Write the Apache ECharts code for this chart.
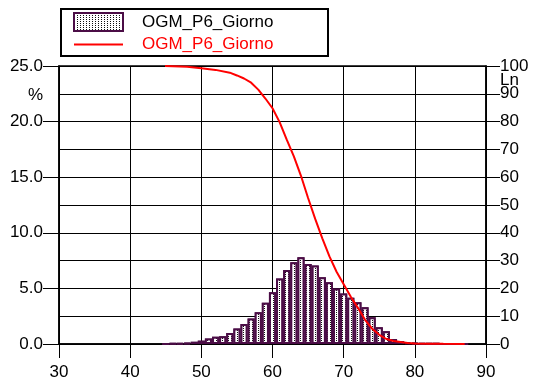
<!DOCTYPE html>
<html>
<head>
<meta charset="utf-8">
<script src="https://cdn.jsdelivr.net/npm/echarts@6/dist/echarts.min.js"></script>
<style>
  html, body { margin: 0; padding: 0; background: #fff; }
  #chart { width: 536px; height: 381px; }
</style>
</head>
<body>
<div id="chart"></div>
<script>
// Level classes (dB) and the share of time spent in each class (%)
const levelClasses = [45, 46, 47, 48, 49, 50, 51, 52, 53, 54, 55, 56, 57, 58, 59, 60, 61, 62, 63, 64,
  65, 66, 67, 68, 69, 70, 71, 72, 73, 74, 75, 76, 77, 78, 79, 80, 81, 82, 83, 84, 85, 86, 87];
const classShare = [0.02, 0.03, 0.05, 0.1, 0.2, 0.3, 0.5, 0.65, 0.7, 1.0, 1.4, 1.8, 2.3, 2.85, 3.7, 4.65, 5.9, 6.65, 7.35, 7.8,
  7.2, 7.05, 6.0, 5.55, 5.0, 4.55, 4.15, 3.75, 3.3, 2.4, 1.5, 1.15, 0.45, 0.25, 0.15, 0.1, 0.05, 0.04, 0.03, 0.02, 0.02, 0.01, 0.01];

// Percentile levels Ln: level (dB) and percentage of time exceeded
const lnLevel = [44.9, 46, 48, 50, 52, 54, 55, 56, 57, 58, 59, 60, 61, 62, 63, 64, 65, 66, 67, 68,
  69, 70, 71, 72, 73, 74, 75, 76, 77, 78, 79, 80, 82, 84, 87];
const lnPercent = [100, 99.9, 99.7, 99.2, 98.6, 97.6, 96.6, 95.5, 94.0, 91.5, 88.3, 84.8, 79.8, 73.5, 67.5, 60.5, 52.5, 45, 38, 31.5,
  26, 21.5, 17, 13, 8.7, 5.5, 3.3, 1.8, 1.1, 0.7, 0.4, 0.2, 0.1, 0.05, 0];

const seriesName = 'OGM_P6_Giorno';
const FONT = 'Liberation Sans, Arial, sans-serif';

const chart = echarts.init(document.getElementById('chart'), null, { renderer: 'canvas' });

chart.setOption({
  animation: false,
  backgroundColor: '#fff',
  textStyle: { fontFamily: FONT },
  grid: {
    left: 59, right: 50, top: 66, bottom: 37,
    show: true, borderColor: '#000', borderWidth: 1.5, backgroundColor: 'transparent'
  },
  legend: {
    orient: 'vertical',
    left: 73, top: 12, padding: 0,
    itemWidth: 49, itemHeight: 18, itemGap: 4,
    selectedMode: false,
    formatter: n => n.trim(),
    textStyle: { fontFamily: FONT, fontSize: 17, color: '#000', padding: [0, 0, 0, 14] },
    data: [
      { name: seriesName, icon: 'rect', textStyle: { color: '#000' } },
      { name: seriesName + ' ', icon: 'path://M0,0 L55,0 L55,2 L0,2 Z', textStyle: { color: '#ff0000' } }
    ]
  },
  graphic: [
    { type: 'rect', shape: { x: 61, y: 9, width: 267, height: 47 },
      style: { fill: 'none', stroke: '#000', lineWidth: 2 }, z: 10 },
    { type: 'text', x: 43, y: 95,
      style: { text: '%', fill: '#000', font: '17px ' + FONT, textAlign: 'right', textVerticalAlign: 'middle' } },
    { type: 'text', x: 500, y: 80,
      style: { text: 'Ln', fill: '#000', font: '17px ' + FONT, textAlign: 'left', textVerticalAlign: 'middle' } }
  ],
  xAxis: {
    type: 'value', min: 30, max: 90, interval: 10,
    axisLine: { lineStyle: { color: '#000', width: 1.5 } },
    axisTick: { length: 14, lineStyle: { color: '#000' } },
    axisLabel: { color: '#000', fontSize: 17, margin: 20, fontFamily: FONT },
    splitLine: { show: true, lineStyle: { color: '#000', width: 1 } }
  },
  yAxis: [
    {
      type: 'value', min: 0, max: 25, interval: 5,
      axisLine: { show: true, lineStyle: { color: '#000', width: 1.5 } },
      axisTick: { show: true, length: 16, lineStyle: { color: '#000' } },
      axisLabel: { color: '#000', fontSize: 17, margin: 16, fontFamily: FONT, formatter: v => v.toFixed(1) },
      splitLine: { show: false }
    },
    {
      type: 'value', min: 0, max: 100, interval: 10, position: 'right',
      axisLine: { show: true, lineStyle: { color: '#000', width: 1.5 } },
      axisTick: { show: true, length: 14, lineStyle: { color: '#000' } },
      axisLabel: { color: '#000', fontSize: 17, margin: 14, fontFamily: FONT },
      splitLine: { show: true, lineStyle: { color: '#000', width: 1 } }
    }
  ],
  series: [
    {
      name: seriesName,
      type: 'bar',
      yAxisIndex: 0,
      barWidth: '100%',
      data: levelClasses.map((x, i) => [x, classShare[i]]),
      itemStyle: {
        color: '#ffffff',
        borderColor: '#4b0d46',
        borderWidth: 2,
        decal: {
          symbol: 'rect', symbolSize: 1,
          dashArrayX: [1, 2], dashArrayY: [1, 1],
          color: '#111', backgroundColor: '#ffffff'
        }
      },
      z: 2
    },
    {
      name: seriesName + ' ',
      type: 'line',
      yAxisIndex: 1,
      data: lnLevel.map((x, i) => [x, lnPercent[i]]),
      showSymbol: false,
      symbol: 'none',
      lineStyle: { color: '#ff0000', width: 2 },
      itemStyle: { color: '#ff0000' },
      z: 3
    }
  ]
});
</script>
</body>
</html>
